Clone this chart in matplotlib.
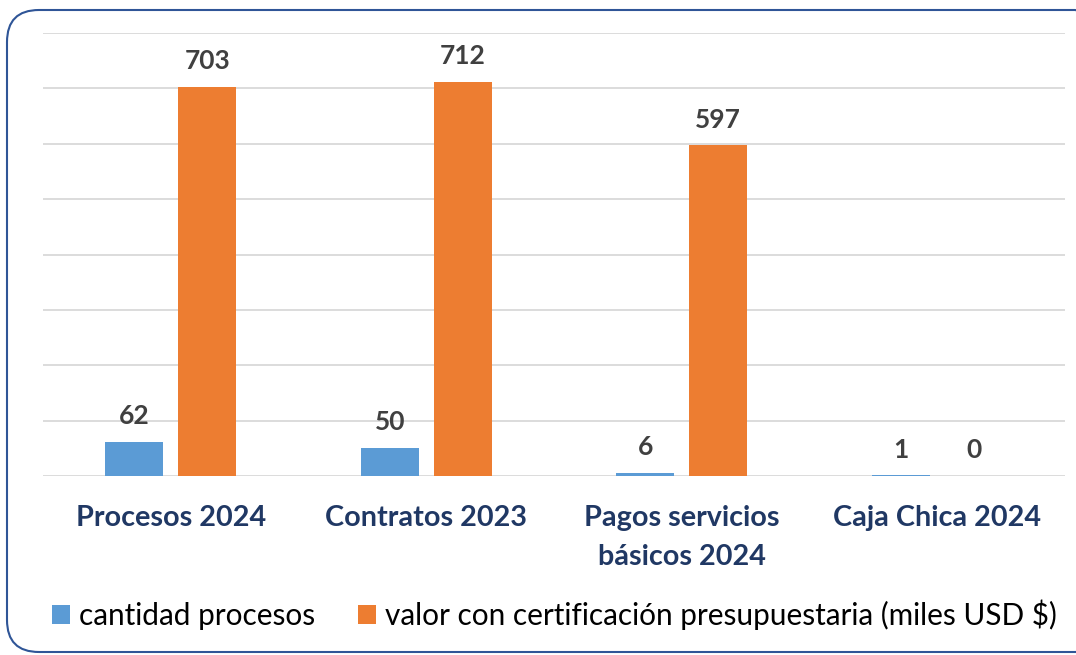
import matplotlib.pyplot as plt
import numpy as np
from matplotlib.patches import FancyBboxPatch
from matplotlib.transforms import IdentityTransform

plt.rcParams['font.family'] = ['Lato', 'DejaVu Sans']

categorias = ["Procesos 2024", "Contratos 2023", "Pagos servicios\nbásicos 2024", "Caja Chica 2024"]
cantidad = [62, 50, 6, 1]
valor = [703, 712, 597, 0]
serie_names = ["cantidad procesos", "valor con certificación presupuestaria (miles USD $)"]

fig = plt.figure(figsize=(10.76, 6.55), dpi=100)
ax = fig.add_axes([43/1076, 1-476/655, (1065-43)/1076, (476-33)/655])

x = np.arange(len(categorias))
w = 0.227
off = 0.143
b1 = ax.bar(x - off, cantidad, w, color="#5B9BD5", label=serie_names[0], zorder=3)
b2 = ax.bar(x + off, valor, w, color="#ED7D31", label=serie_names[1], zorder=3)

for bars, vals in ((b1, cantidad), (b2, valor)):
    for r, v in zip(bars, vals):
        ax.annotate(str(v), (r.get_x() + r.get_width()/2, r.get_height()),
                    xytext=(0, 10), textcoords="offset points", ha="center", va="bottom",
                    fontsize=19, fontweight="bold", color="#404040")

ax.set_ylim(0, 800)
ax.set_xlim(-0.5, 3.5)
ax.set_yticks(np.arange(0, 801, 100))
ax.yaxis.grid(True, color="#D9D9D9", linewidth=1.3, zorder=0)
ax.tick_params(axis="y", length=0, labelleft=False)
ax.tick_params(axis="x", length=0, pad=21)
ax.set_xticks(x)
ax.set_xticklabels(categorias, fontsize=20.7, fontweight="bold", color="#203864", linespacing=1.62)
for s in ax.spines.values():
    s.set_visible(False)

fig.legend(handles=[b1, b2], loc="center", bbox_to_anchor=(0.515, 1-615/655), ncol=2,
           frameon=False, fontsize=21.4, handlelength=0.6, handleheight=0.6,
           handletextpad=0.3, columnspacing=1.45)

border = FancyBboxPatch((7, 3), 1100, 642, boxstyle="round,pad=0,rounding_size=32",
                        transform=IdentityTransform(), fill=False, edgecolor="#2F5597",
                        linewidth=1.5)
fig.patches.append(border)

fig.savefig("out.png", dpi=100)
